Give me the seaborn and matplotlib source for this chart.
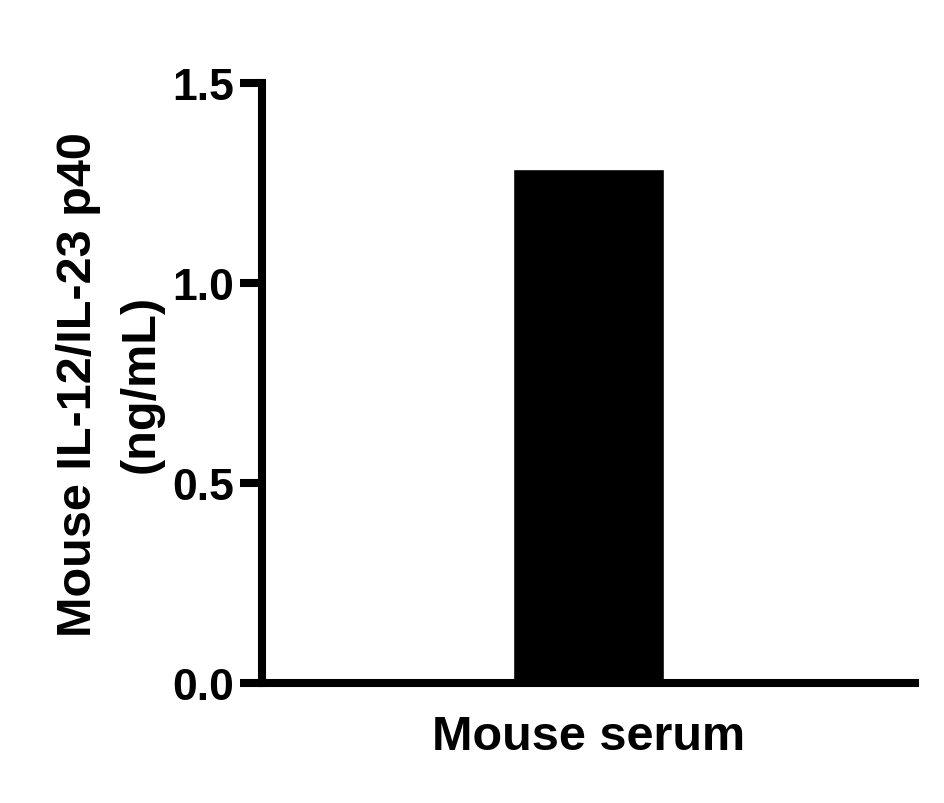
import matplotlib
matplotlib.use("Agg")
import matplotlib.pyplot as plt
import seaborn as sns
import pandas as pd

categories = ["Mouse serum"]
values = [1.285]
yticks = [0.0, 0.5, 1.0, 1.5]
ytick_labels = ["0.0", "0.5", "1.0", "1.5"]

sns.set_style("ticks")
plt.rcParams['font.family'] = ['Liberation Sans', 'DejaVu Sans']
plt.rcParams['font.weight'] = 'bold'
for k in ['text.color', 'axes.labelcolor', 'xtick.color', 'ytick.color', 'axes.edgecolor']:
    plt.rcParams[k] = 'black'

df = pd.DataFrame({"cat": categories, "val": values})
fig = plt.figure(figsize=(9.45, 8.04), dpi=100)
ax = fig.add_axes([0.277, 0.149, 0.691, 0.7465])
sns.barplot(data=df, x="cat", y="val", color="black", width=0.232, ax=ax, saturation=1)
ax.set_xlim(-0.5, 0.5)
ax.set_ylim(0, 1.5)
ax.set_yticks(yticks)
ax.set_yticklabels(ytick_labels, fontsize=32, fontweight='bold')
ax.set_xticks([])
ax.set_xlabel("Mouse serum", fontsize=35, fontweight='bold', labelpad=22)
ax.set_ylabel("Mouse IL-12/IL-23 p40\n(ng/mL)", fontsize=35, fontweight='bold',
              labelpad=6, linespacing=1.52)
for s in ["top", "right"]:
    ax.spines[s].set_visible(False)
for s in ["left", "bottom"]:
    ax.spines[s].set_linewidth(5.8)
    ax.spines[s].set_color("black")
ax.tick_params(axis='y', length=16, width=5.8, pad=4, colors='black')
fig.savefig("out.png", dpi=100)
